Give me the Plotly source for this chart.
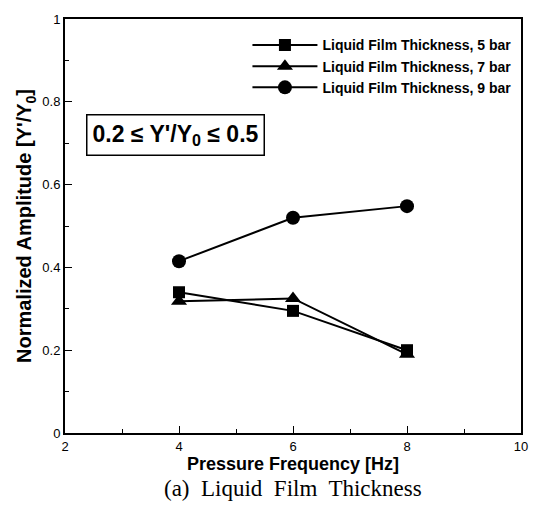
import plotly.graph_objects as go

freq = [4, 6, 8]
amp_5bar = [0.34, 0.295, 0.20]
amp_7bar = [0.318, 0.325, 0.19]
amp_9bar = [0.415, 0.52, 0.548]
names = ["Liquid Film Thickness, 5 bar", "Liquid Film Thickness, 7 bar", "Liquid Film Thickness, 9 bar"]
symbols = ["square", "triangle-up", "circle"]
sizes = [12, 14, 14]

fig = go.Figure()
for y, n, s, sz in zip([amp_5bar, amp_7bar, amp_9bar], names, symbols, sizes):
    fig.add_trace(go.Scatter(x=freq, y=y, name=n, mode="lines+markers",
                             line=dict(color="black", width=2),
                             marker=dict(symbol=s, size=sz, color="black")))

axis_common = dict(showline=True, linecolor="black", linewidth=2, mirror=True,
                   ticks="inside", ticklen=7, tickwidth=1.2, tickcolor="black",
                   showgrid=False, zeroline=False,
                   tickfont=dict(family="Liberation Sans, Arial", size=13, color="black"))

fig.update_layout(
    width=540, height=512,
    margin=dict(l=65, r=18, t=14, b=79),
    paper_bgcolor="white", plot_bgcolor="white",
    xaxis=dict(range=[2, 10], tickvals=[2, 4, 6, 8, 10],
               minor=dict(ticks="inside", ticklen=4, dtick=1, tickcolor="black"),
               title=dict(text="<b>Pressure Frequency [Hz]</b>", standoff=4,
                          font=dict(family="Liberation Sans, Arial", size=18, color="black")),
               **axis_common),
    yaxis=dict(range=[0, 1], tickvals=[0, 0.2, 0.4, 0.6, 0.8, 1],
               ticktext=["0", "0.2", "0.4", "0.6", "0.8", "1"],
               minor=dict(ticks="inside", ticklen=4, dtick=0.1, tickcolor="black"),
               title=dict(text="<b>Normalized Amplitude [Y'/Y<sub>0</sub>]</b>", standoff=5,
                          font=dict(family="Liberation Sans, Arial", size=20, color="black")),
               **axis_common),
    legend=dict(x=0.99, y=0.975, xanchor="right", yanchor="top",
                bgcolor="rgba(0,0,0,0)", itemwidth=65,
                font=dict(family="Liberation Sans, Arial", size=14, color="black", weight="bold")),
    showlegend=True,
)

fig.add_annotation(x=0.243, y=0.72, xref="paper", yref="paper",
                   xanchor="center", yanchor="middle",
                   text="<b>0.2 ≤ Y'/Y<sub>0</sub> ≤ 0.5</b>", showarrow=False,
                   font=dict(family="Liberation Sans, Arial", size=23, color="black"),
                   bordercolor="black", borderwidth=1.5, borderpad=5, bgcolor="white")

fig.add_annotation(x=0.5, y=-0.135, xref="paper", yref="paper", yanchor="middle",
                   text="(a)  Liquid  Film  Thickness", showarrow=False,
                   font=dict(family="Liberation Serif, Times New Roman", size=23, color="black"))

fig.write_html("out.html")
